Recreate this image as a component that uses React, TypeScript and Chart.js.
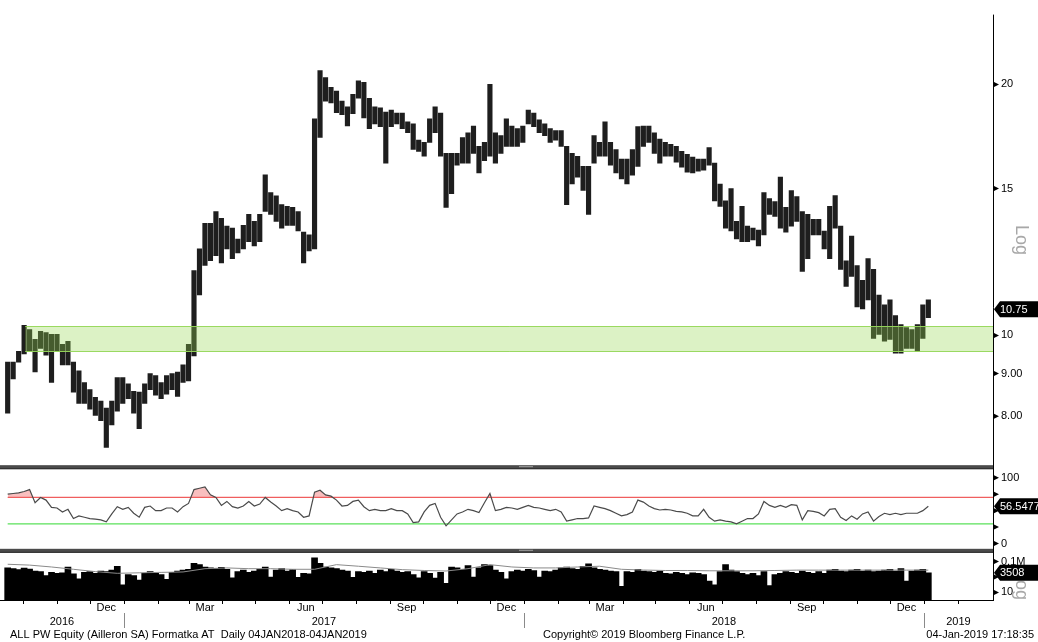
import React, { useEffect, useRef } from 'react';
import { Chart, registerables } from 'chart.js';

Chart.register(...registerables);

const FONT = '"Liberation Sans", Arial, sans-serif';
const W = 1038;
const H = 642;

// Day numbers are counted from 1 Jan 2017; one sample every DAY_STEP days.
const FIRST_DAY = -106;
const DAY_STEP = 5;
const X_MIN = -113;
const X_MAX = 793;

const priceHigh = [
  9.29, 9.29, 9.57, 10.28, 10.16, 9.89, 10.11, 10.08, 10.03, 10.03,
  9.76, 9.84, 9.29, 9.07, 8.78, 8.61, 8.43, 8.34, 8.18, 8.34,
  8.90, 8.90, 8.75, 8.57, 8.55, 8.75, 9.00, 8.95, 8.78, 8.95,
  9.00, 9.04, 9.22, 9.76, 11.96, 12.70, 13.63, 13.63, 14.08, 13.82,
  13.52, 13.45, 13.05, 13.55, 13.97, 13.70, 13.97, 15.58, 14.83, 14.70,
  14.35, 14.28, 14.24, 14.08, 13.30, 13.20, 18.18, 20.78, 20.38, 19.84,
  19.63, 19.10, 18.80, 19.46, 20.20, 20.11, 19.25, 18.80, 18.74, 18.53,
  18.63, 18.48, 18.48, 18.03, 17.93, 17.15, 17.04, 18.18, 18.80, 18.48,
  16.53, 16.53, 16.53, 17.27, 17.50, 17.83, 16.85, 17.04, 20.00, 17.50,
  17.36, 18.18, 17.83, 17.70, 17.83, 18.63, 18.48, 18.13, 17.93, 17.70,
  17.60, 17.60, 16.85, 16.53, 16.40, 15.95, 15.95, 17.36, 17.04, 18.03,
  17.04, 16.71, 16.27, 16.27, 16.71, 17.80, 17.83, 17.83, 17.50, 17.20,
  17.04, 16.95, 16.85, 16.62, 16.49, 16.36, 16.27, 16.27, 16.80, 16.09,
  15.19, 14.50, 15.00, 13.70, 14.28, 13.52, 13.45, 13.38, 14.83, 14.59,
  14.47, 15.48, 14.24, 14.92, 14.67, 14.08, 13.97, 13.78, 13.78, 13.34,
  14.28, 14.71, 13.52, 12.29, 13.16, 12.13, 11.64, 12.36, 12.00, 11.18,
  10.88, 11.03, 10.56, 10.30, 10.22, 10.16, 10.30, 10.88, 11.03,
];

const priceLow = [
  8.07, 8.87, 9.29, 9.50, 9.57, 9.04, 9.65, 9.47, 8.78, 9.57,
  9.22, 9.22, 8.55, 8.29, 8.29, 8.16, 8.02, 7.90, 7.34, 7.81,
  8.11, 8.29, 8.40, 8.07, 7.73, 8.29, 8.61, 8.48, 8.40, 8.50,
  8.61, 8.45, 8.78, 8.82, 9.45, 11.18, 12.13, 12.29, 12.46, 12.22,
  12.70, 12.36, 12.56, 12.70, 12.95, 12.80, 12.95, 14.08, 13.97, 13.70,
  13.45, 13.55, 13.55, 13.34, 12.22, 12.63, 12.70, 17.27, 19.10, 19.00,
  18.50, 18.40, 17.83, 18.45, 19.25, 18.23, 17.70, 17.93, 17.80, 16.09,
  17.80, 17.93, 17.70, 17.50, 16.71, 16.62, 16.40, 17.04, 17.50, 16.40,
  14.24, 14.79, 16.00, 16.09, 16.09, 16.53, 15.66, 16.20, 16.40, 16.09,
  16.53, 16.85, 16.85, 16.85, 17.04, 17.93, 17.80, 17.50, 17.36, 17.04,
  17.15, 16.85, 14.35, 15.19, 15.48, 14.92, 13.97, 16.09, 16.40, 16.40,
  16.00, 15.66, 15.40, 15.19, 15.57, 15.95, 16.85, 17.04, 16.53, 16.09,
  16.40, 16.40, 16.13, 15.91, 15.70, 15.66, 15.74, 15.78, 16.00, 14.50,
  14.28, 13.45, 13.34, 13.05, 12.95, 12.95, 13.02, 12.80, 13.20, 13.97,
  13.89, 13.45, 13.30, 13.52, 13.70, 11.93, 12.36, 13.20, 13.20, 12.70,
  12.36, 13.45, 12.00, 11.45, 11.77, 10.82, 10.76, 11.03, 9.92, 10.03,
  9.84, 9.89, 9.52, 9.52, 9.65, 9.65, 9.57, 9.92, 10.50,
];

const rsiValues = [
  75, 76, 77, 79, 82, 62, 70, 66, 55, 54,
  48, 52, 38, 42, 40, 38, 37, 36, 33, 45,
  56, 52, 55, 46, 40, 55, 57, 50, 50, 54,
  54, 48, 56, 61, 82, 84, 86, 74, 70, 58,
  64, 56, 54, 57, 64, 57, 60, 70, 63, 57,
  50, 53, 50, 48, 40, 42, 78, 81, 74, 72,
  66, 57, 58, 64, 66, 56, 50, 52, 50, 50,
  53, 50, 50, 45, 32, 33, 48, 58, 61, 40,
  27, 36, 45, 48, 52, 50, 47, 62, 76, 50,
  52, 55, 54, 52, 55, 58, 55, 54, 52, 50,
  52, 48, 34, 36, 38, 38, 39, 57, 55, 53,
  50, 46, 42, 44, 48, 66, 63, 57, 53, 51,
  52, 51, 49, 48, 46, 42, 42, 52, 40, 34,
  36, 34, 33, 30, 34, 38, 38, 45, 64, 58,
  55, 58, 55, 59, 58, 36, 50, 49, 47, 42,
  52, 53, 40, 35, 42, 37, 45, 48, 34, 41,
  46, 44, 46, 44, 46, 46, 46, 50, 56.5477,
];

const volumeValues = [
  15000, 12000, 9000, 14000, 11000, 6000, 5000, 1500, 4000, 3000,
  3500, 20000, 2500, 600, 4000, 5000, 3000, 6000, 5000, 8000,
  25000, 100, 2000, 1500, 400, 3000, 5000, 3000, 2000, 500,
  4000, 6000, 8000, 10000, 60000, 40000, 20000, 15000, 12000, 18000,
  10000, 800, 5000, 8000, 4000, 6000, 10000, 20000, 1000, 8000,
  12000, 6000, 9000, 900, 3000, 2500, 300000, 60000, 20000, 15000,
  12000, 8000, 6000, 900, 5000, 4000, 6000, 3000, 8000, 5000,
  10000, 6000, 4000, 5000, 2000, 800, 5000, 3000, 700, 4000,
  150, 20000, 15000, 10000, 30000, 1000, 15000, 40000, 30000, 8000,
  4000, 600, 5000, 8000, 6000, 10000, 7000, 1000, 6000, 5000,
  8000, 15000, 20000, 12000, 10000, 25000, 50000, 15000, 10000, 8000,
  6000, 5000, 60, 5000, 4000, 10000, 6000, 5000, 4000, 6000,
  3000, 2500, 4000, 3000, 2000, 3500, 3000, 2000, 300, 100,
  5000, 40000, 8000, 5000, 3000, 2000, 3000, 1500, 5000, 80,
  2000, 3000, 5000, 4000, 3000, 6000, 4000, 3000, 5000, 3000,
  8000, 10000, 6000, 5000, 8000, 10000, 6000, 8000, 5000, 6000,
  8000, 10000, 6000, 12000, 300, 6000, 8000, 10000, 3508,
];

const volMaDays = [
  -106, -86, -66, -46, -26, -6, 14, 34, 54, 74, 94, 114, 134, 154, 174,
  194, 214, 234, 254, 274, 294, 314, 334, 354, 374, 394, 414, 434, 454,
  474, 494, 514, 534, 554, 574, 594, 614, 634, 654, 674, 694, 714, 734,
];
const volMaValues = [
  45000, 35000, 20000, 10000, 5000, 3000, 3500, 4000, 4500, 12000,
  15000, 12000, 12000, 10000, 10000, 40000, 25000, 15000, 9000, 7000,
  6000, 12000, 40000, 20000, 15000, 15000, 20000, 25000, 10000, 8000,
  7000, 7000, 6400, 6400, 6400, 7000, 7800, 7800, 7800, 7800,
  7800, 7800, 7800,
];

const lastPrice = 10.75;
const lastRsi = 56.5477;
const lastVolume = 3508;

const bandLow = 9.57;
const bandHigh = 10.25;
const bandStartDay = -90;
const rsiUpper = 70;
const rsiLower = 30;

const priceTicks = [8, 9, 10, 15, 20];
const priceTickLabels = ['8.00', '9.00', '10', '15', '20'];
const rsiTicks = [0, 25, 50, 75, 100];
const rsiTickLabels = ['0', '', '50', '', '100'];
const volTicks = [10, 1000, 100000];
const volTickLabels = ['10', '', '0.1M'];

const monthStartDays = [
  -92, -61, -31, 0, 31, 59, 90, 120, 151, 181, 212, 243, 273, 304, 334,
  365, 396, 424, 455, 485, 516, 546, 577, 608, 638, 669, 699, 730, 761,
];
const monthLabels = ['Dec', 'Mar', 'Jun', 'Sep', 'Dec', 'Mar', 'Jun', 'Sep', 'Dec'];
const monthLabelDays = [-16, 74, 166, 258, 349, 439, 531, 623, 714];
const yearLabels = ['2016', '2017', '2018', '2019'];
const yearBounds = [X_MIN, 0, 365, 730, X_MAX];

const footerLeft = 'ALL PW Equity (Ailleron SA) Formatka AT  Daily 04JAN2018-04JAN2019';
const footerMid = 'Copyright\u00A9 2019 Bloomberg Finance L.P.';
const footerRight = '04-Jan-2019 17:18:35';

const days = priceHigh.map((_, i) => FIRST_DAY + DAY_STEP * i);

const decorPlugin = {
  id: 'decor',
  afterDatasetsDraw(chart: any) {
    const { ctx, chartArea, scales } = chart;
    const xs = scales.x;
    const yp = scales.yPrice;
    const x0 = xs.getPixelForValue(bandStartDay);
    const x1 = chartArea.right;
    const yT = yp.getPixelForValue(bandHigh);
    const yB = yp.getPixelForValue(bandLow);
    ctx.save();
    ctx.fillStyle = 'rgba(150,215,80,0.33)';
    ctx.fillRect(x0, yT, x1 - x0, yB - yT);
    ctx.strokeStyle = 'rgba(150,215,90,0.95)';
    ctx.lineWidth = 1;
    ctx.beginPath();
    ctx.moveTo(x0, Math.round(yT) + 0.5);
    ctx.lineTo(x1, Math.round(yT) + 0.5);
    ctx.moveTo(x0, Math.round(yB) + 0.5);
    ctx.lineTo(x1, Math.round(yB) + 0.5);
    ctx.stroke();
    ctx.restore();
  },
  afterDraw(chart: any) {
    const { ctx, chartArea, scales } = chart;
    const xs = scales.x;
    const yp = scales.yPrice;
    const yr = scales.yRsi;
    const yv = scales.yVol;
    const R = chartArea.right;
    const B = chartArea.bottom;
    ctx.save();

    // panel separators
    const seps = [yp.bottom, yr.bottom];
    for (const s of seps) {
      ctx.fillStyle = '#4b4b4b';
      ctx.fillRect(0, s - 2, R, 4);
      ctx.fillStyle = '#2e2e2e';
      ctx.fillRect(0, s + 1, R, 1);
      ctx.strokeStyle = '#a0a0a0';
      ctx.lineWidth = 1;
      ctx.beginPath();
      ctx.moveTo(519, s - 0.5);
      ctx.lineTo(533, s - 0.5);
      ctx.stroke();
    }

    // axis lines
    ctx.strokeStyle = '#000';
    ctx.lineWidth = 1;
    ctx.beginPath();
    ctx.moveTo(R + 0.5, chartArea.top);
    ctx.lineTo(R + 0.5, B + 1);
    ctx.moveTo(0, B + 0.5);
    ctx.lineTo(R, B + 0.5);
    ctx.stroke();

    // tick triangles on the right axis
    ctx.fillStyle = '#000';
    const tri = (y: number) => {
      ctx.beginPath();
      ctx.moveTo(R, y - 3);
      ctx.lineTo(R + 6, y);
      ctx.lineTo(R, y + 3);
      ctx.closePath();
      ctx.fill();
    };
    priceTicks.forEach((v) => tri(yp.getPixelForValue(v)));
    rsiTicks.forEach((v) => tri(yr.getPixelForValue(v)));
    volTicks.forEach((v) => tri(yv.getPixelForValue(v)));

    // "Log" labels
    const logLabel = (cy: number, top: number, bottom: number) => {
      ctx.save();
      ctx.beginPath();
      ctx.rect(R + 1, top, W - R, bottom - top);
      ctx.clip();
      ctx.translate(1021, cy);
      ctx.rotate(Math.PI / 2);
      ctx.fillStyle = '#a8a8a8';
      ctx.font = `18px ${FONT}`;
      ctx.textAlign = 'center';
      ctx.textBaseline = 'middle';
      ctx.fillText('Log', 0, 0);
      ctx.restore();
    };
    logLabel(240, yp.top, yp.bottom - 3);
    logLabel(585, yv.top + 3, B + 14);

    // current value boxes
    const valueBox = (y: number, text: string) => {
      ctx.fillStyle = '#000';
      ctx.beginPath();
      ctx.moveTo(R + 1, y);
      ctx.lineTo(R + 7, y - 8);
      ctx.lineTo(W, y - 8);
      ctx.lineTo(W, y + 8);
      ctx.lineTo(R + 7, y + 8);
      ctx.closePath();
      ctx.fill();
      ctx.fillStyle = '#fff';
      ctx.font = `11px ${FONT}`;
      ctx.textAlign = 'left';
      ctx.textBaseline = 'middle';
      ctx.fillText(text, R + 7, y + 0.5);
    };
    valueBox(yp.getPixelForValue(lastPrice), lastPrice.toFixed(2));
    valueBox(yr.getPixelForValue(lastRsi), lastRsi.toFixed(4));
    valueBox(yv.getPixelForValue(lastVolume), String(lastVolume));

    // month ticks
    ctx.strokeStyle = '#000';
    ctx.beginPath();
    monthStartDays.forEach((d) => {
      const x = Math.round(xs.getPixelForValue(d)) + 0.5;
      if (x < R) {
        ctx.moveTo(x, B);
        ctx.lineTo(x, B + 4);
      }
    });
    ctx.stroke();

    ctx.fillStyle = '#000';
    ctx.font = `11px ${FONT}`;
    ctx.textAlign = 'center';
    ctx.textBaseline = 'alphabetic';
    monthLabels.forEach((m, i) => {
      ctx.fillText(m, xs.getPixelForValue(monthLabelDays[i]), B + 11);
    });
    yearLabels.forEach((yl, i) => {
      const a = xs.getPixelForValue(yearBounds[i]);
      const b = xs.getPixelForValue(yearBounds[i + 1]);
      ctx.fillText(yl, (a + b) / 2, B + 25);
    });
    ctx.strokeStyle = '#8a8a8a';
    ctx.beginPath();
    yearBounds.slice(1, -1).forEach((d) => {
      const x = Math.round(xs.getPixelForValue(d)) + 0.5;
      ctx.moveTo(x, B + 13);
      ctx.lineTo(x, B + 28);
    });
    ctx.stroke();

    // footer
    ctx.fillStyle = '#000';
    ctx.textAlign = 'left';
    ctx.fillText(footerLeft, 10, B + 38);
    ctx.fillText(footerMid, 543, B + 38);
    ctx.textAlign = 'right';
    ctx.fillText(footerRight, 1034, B + 38);
    ctx.restore();
  },
};

function makeConfig(): any {
  const tickFont = { family: FONT, size: 11 };
  const rightAxis = (extra: any) => ({
    position: 'right',
    stack: 'panels',
    grid: { display: false, drawTicks: false },
    border: { display: false },
    afterFit: (s: any) => {
      s.width = W - 993;
    },
    ...extra,
  });
  return {
    type: 'bar',
    data: {
      datasets: [
        {
          type: 'bar',
          label: 'Price',
          yAxisID: 'yPrice',
          data: days.map((d, i) => ({ x: d, y: [priceLow[i], priceHigh[i]] })),
          backgroundColor: '#1e1e1e',
          borderWidth: 0,
          barThickness: 4.5,
          grouped: false,
        },
        {
          type: 'line',
          label: 'RSI',
          yAxisID: 'yRsi',
          data: days.map((d, i) => ({ x: d, y: rsiValues[i] })),
          borderColor: '#4a4a4a',
          borderWidth: 1.2,
          pointRadius: 0,
          tension: 0,
          fill: { target: { value: rsiUpper }, above: 'rgba(240,95,95,0.4)', below: 'rgba(0,0,0,0)' },
        },
        {
          type: 'line',
          label: 'RSI 70',
          yAxisID: 'yRsi',
          data: [
            { x: FIRST_DAY, y: rsiUpper },
            { x: X_MAX, y: rsiUpper },
          ],
          borderColor: 'rgb(240,95,95)',
          borderWidth: 1.3,
          pointRadius: 0,
          fill: false,
        },
        {
          type: 'line',
          label: 'RSI 30',
          yAxisID: 'yRsi',
          data: [
            { x: FIRST_DAY, y: rsiLower },
            { x: X_MAX, y: rsiLower },
          ],
          borderColor: 'rgb(90,225,90)',
          borderWidth: 1.3,
          pointRadius: 0,
          fill: false,
        },
        {
          type: 'line',
          label: 'Volume MA',
          yAxisID: 'yVol',
          data: volMaDays.map((d, i) => ({ x: d, y: volMaValues[i] })),
          borderColor: '#8a8a8a',
          borderWidth: 1,
          pointRadius: 0,
          tension: 0,
          fill: false,
        },
        {
          type: 'bar',
          label: 'Volume',
          yAxisID: 'yVol',
          data: days.map((d, i) => ({ x: d, y: volumeValues[i] })),
          backgroundColor: '#000',
          borderWidth: 0,
          barThickness: 6,
          grouped: false,
        },
      ],
    },
    options: {
      responsive: false,
      animation: false,
      events: [],
      layout: { padding: { top: 5, bottom: 42, left: 0, right: 0 } },
      plugins: { legend: { display: false }, tooltip: { enabled: false } },
      scales: {
        x: { type: 'linear', min: X_MIN, max: X_MAX, offset: false, display: false },
        yPrice: rightAxis({
          type: 'logarithmic',
          stackWeight: 460,
          min: 6.95,
          max: 24.25,
          afterBuildTicks: (s: any) => {
            s.ticks = priceTicks.map((v) => ({ value: v }));
          },
          ticks: {
            autoSkip: false,
            padding: 8,
            color: '#000',
            font: tickFont,
            callback: (_v: any, i: number) => priceTickLabels[i],
          },
        }),
        yRsi: rightAxis({
          type: 'linear',
          stackWeight: 85,
          min: -11,
          max: 116,
          afterBuildTicks: (s: any) => {
            s.ticks = rsiTicks.map((v) => ({ value: v }));
          },
          ticks: {
            autoSkip: false,
            padding: 8,
            color: '#000',
            font: tickFont,
            callback: (_v: any, i: number) => rsiTickLabels[i],
          },
        }),
        yVol: rightAxis({
          type: 'logarithmic',
          stackWeight: 50,
          min: 1.04,
          max: 2500000,
          afterBuildTicks: (s: any) => {
            s.ticks = volTicks.map((v) => ({ value: v }));
          },
          ticks: {
            autoSkip: false,
            padding: 8,
            color: '#000',
            font: tickFont,
            callback: (_v: any, i: number) => volTickLabels[i],
          },
        }),
      },
    },
    plugins: [decorPlugin],
  };
}

export default function App() {
  const ref = useRef<HTMLCanvasElement>(null);
  useEffect(() => {
    const chart = new Chart(ref.current as HTMLCanvasElement, makeConfig());
    return () => chart.destroy();
  }, []);
  return (
    <div style={{ position: 'absolute', left: 0, top: 0, width: W, height: H, background: '#fff' }}>
      <canvas ref={ref} width={W} height={H} style={{ display: 'block' }} />
    </div>
  );
}
